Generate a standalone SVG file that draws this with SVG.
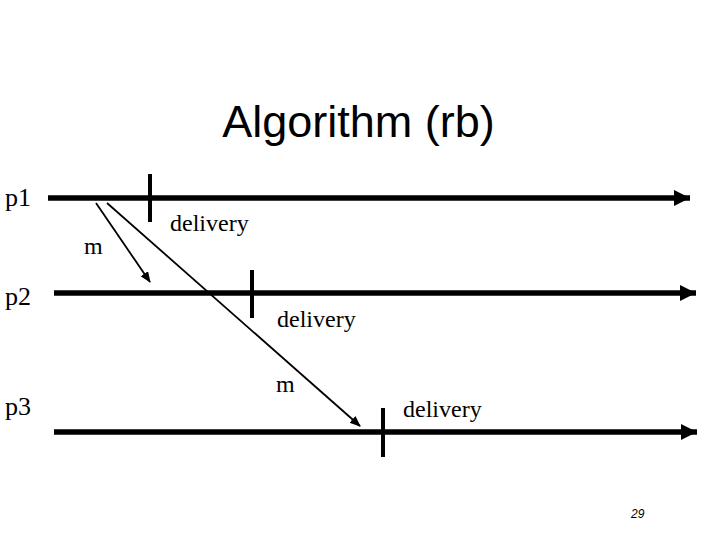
<svg xmlns="http://www.w3.org/2000/svg" width="720" height="540" viewBox="0 0 720 540">
<style>
.lbl{font-family:"Liberation Serif","Times New Roman",serif;font-size:24px;fill:#000}
.plbl{font-family:"Liberation Serif","Times New Roman",serif;font-size:26px;fill:#000}
.title{font-family:"Liberation Sans",Arial,sans-serif;font-size:45px;fill:#000}
.pn{font-family:"Liberation Sans",Arial,sans-serif;font-size:12px;font-style:italic;fill:#000}
.tl{stroke:#000;stroke-width:5.5;fill:none}
.tick{stroke:#000;stroke-width:4;fill:none}
.msg{stroke:#000;stroke-width:1.8;fill:none}
</style>
<defs>
<marker id="bigArrow" markerUnits="userSpaceOnUse" markerWidth="20" markerHeight="20" refX="16" refY="8" orient="auto">
<path d="M0,0 L16,8 L0,16 Z" fill="#000"/>
</marker>
<marker id="smallArrow" markerUnits="userSpaceOnUse" markerWidth="12" markerHeight="12" refX="10" refY="4.5" orient="auto">
<path d="M0,0 L11,4.5 L0,9 Z" fill="#000"/>
</marker>
</defs>
<rect width="720" height="540" fill="#fff"/>
<text class="title" x="358.5" y="137" text-anchor="middle">Algorithm (rb)</text>
<g id="p1">
<text class="plbl" x="5" y="206">p1</text>
<line class="tl" x1="48" y1="198" x2="690" y2="198" marker-end="url(#bigArrow)"/>
</g>
<g id="p2">
<text class="plbl" x="5" y="305">p2</text>
<line class="tl" x1="54" y1="293" x2="696" y2="293" marker-end="url(#bigArrow)"/>
</g>
<g id="p3">
<text class="plbl" x="5" y="415">p3</text>
<line class="tl" x1="54" y1="432" x2="697" y2="432" marker-end="url(#bigArrow)"/>
</g>
<g id="deliveries">
<line class="tick" x1="150" y1="174" x2="150" y2="222"/>
<text class="lbl" x="170" y="231">delivery</text>
<line class="tick" x1="252" y1="270" x2="252" y2="318"/>
<text class="lbl" x="277" y="327">delivery</text>
<line class="tick" x1="383" y1="408" x2="383" y2="457"/>
<text class="lbl" x="403" y="417">delivery</text>
</g>
<g id="connectors">
<line class="msg" x1="96" y1="203" x2="150" y2="282" marker-end="url(#smallArrow)"/>
<line class="msg" x1="107" y1="203" x2="360" y2="426" marker-end="url(#smallArrow)"/>
<text class="lbl" x="84" y="254">m</text>
<text class="lbl" x="276" y="392">m</text>
</g>
<text class="pn" x="631" y="518">29</text>
</svg>
